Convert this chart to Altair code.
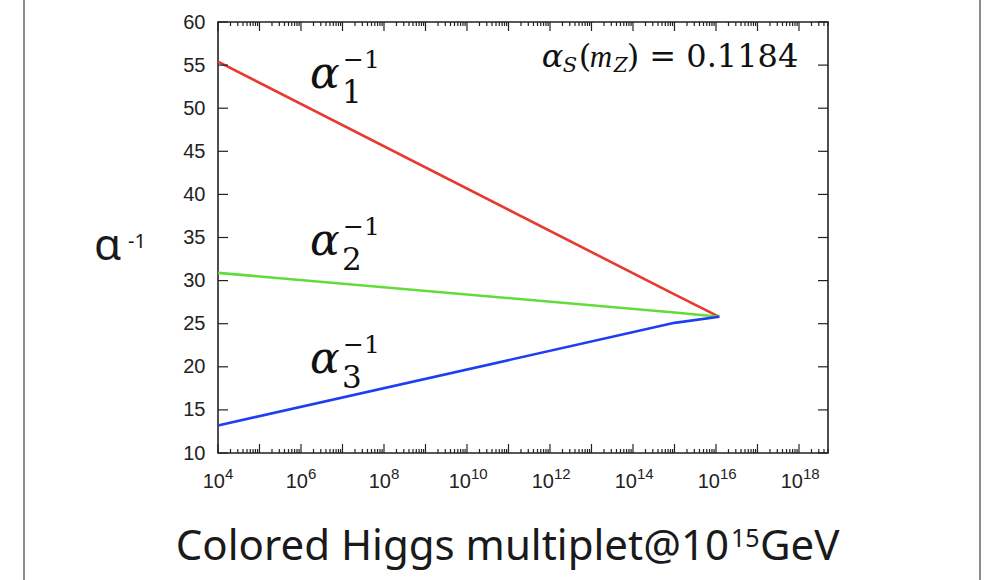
import altair as alt
import pandas as pd

# ---------------- data ----------------
x_points = [1e4, 1e15, 1.2e16]
alpha1_inv = [55.4, 28.4, 25.8]
alpha2_inv = [30.9, 26.3, 25.8]
alpha3_inv = [13.2, 25.1, 25.8]
series_names = ["a1", "a2", "a3"]
series_colors = ["#e8392e", "#62dc38", "#1d3ef2"]

major_decades = list(range(4, 19))
minor_mults = [2, 3, 4, 5, 6, 7, 8, 9]
x_max = 5e18
label_exps = [4, 6, 8, 10, 12, 14, 16, 18]
y_ticks = [10, 15, 20, 25, 30, 35, 40, 45, 50, 55, 60]

# line-label annotations (data coords of the alpha glyph baseline-left)
lab_x = [1.65e6, 1.65e6, 1.65e6]
lab_y = [52.4, 32.95, 19.25]
lab_sub = ["1", "2", "3"]

as_x = [6.3e11]
as_y = [54.8]

W, H = 610, 431

# ---------------- frames ----------------
rows = []
for name, vals in zip(series_names, [alpha1_inv, alpha2_inv, alpha3_inv]):
    for xv, yv in zip(x_points, vals):
        rows.append({"x": xv, "v": yv, "s": name})
lines_df = pd.DataFrame(rows)

xmaj_df = pd.DataFrame({"t": [10.0 ** d for d in major_decades]})
xmin_df = pd.DataFrame({"t": [m * 10.0 ** d for d in major_decades for m in minor_mults if m * 10.0 ** d <= x_max]})
ytk_df = pd.DataFrame({"t": y_ticks})
lab1_df = pd.DataFrame({"t": [10.0 ** e for e in label_exps if e < 10], "e": [str(e) for e in label_exps if e < 10]})
lab2_df = pd.DataFrame({"t": [10.0 ** e for e in label_exps if e >= 10], "e": [str(e) for e in label_exps if e >= 10]})
ann_df = pd.DataFrame({"x": lab_x, "y": lab_y, "sub": lab_sub})
as_df = pd.DataFrame({"x": as_x, "y": as_y})

xs = alt.Scale(type="log", domain=[1e4, x_max], nice=False)
ys = alt.Scale(domain=[10, 60], nice=False, zero=False)

TICK = "#222222"

lines = alt.Chart(lines_df).mark_line(strokeWidth=2.6).encode(
    x=alt.X("x:Q", scale=xs, axis=None),
    y=alt.Y("v:Q", scale=ys, axis=alt.Axis(
        values=y_ticks, ticks=False, domain=False, grid=False, title=None,
        labelFont="Liberation Sans", labelFontSize=20, labelColor="#222222",
        labelPadding=13)),
    color=alt.Color("s:N", scale=alt.Scale(domain=series_names, range=series_colors), legend=None),
)

def xrule(df, y0, y1):
    return alt.Chart(df).mark_rule(color=TICK, strokeWidth=1.2).encode(
        x=alt.X("t:Q", scale=xs), y=alt.value(y0), y2=alt.value(y1))

def yrule(x0, x1):
    return alt.Chart(ytk_df).mark_rule(color=TICK, strokeWidth=1.2).encode(
        y=alt.Y("t:Q", scale=ys), x=alt.value(x0), x2=alt.value(x1))

ticks = [
    xrule(xmaj_df, H, H - 9), xrule(xmaj_df, 0, 9),
    xrule(xmin_df, H, H - 4), xrule(xmin_df, 0, 4),
    yrule(0, 10), yrule(W, W - 10),
]

def xlabels(df, junction):
    base = alt.Chart(df).mark_text(align="right", baseline="alphabetic", dx=junction,
                                   font="Liberation Sans", fontSize=20, color="#222222").encode(
        x=alt.X("t:Q", scale=xs), y=alt.value(H + 35), text=alt.value("10"))
    exp = alt.Chart(df).mark_text(align="left", baseline="alphabetic", dx=junction,
                                  font="Liberation Sans", fontSize=15, color="#222222").encode(
        x=alt.X("t:Q", scale=xs), y=alt.value(H + 26), text="e:N")
    return [base, exp]

xlab = xlabels(lab1_df, 7) + xlabels(lab2_df, 4)

SERIF = "DejaVu Serif"

def ann(text, dx, dy, size, italic):
    return alt.Chart(ann_df).mark_text(align="left", baseline="alphabetic", dx=dx, dy=dy,
                                       font=SERIF, fontSize=size, fontStyle="italic" if italic else "normal",
                                       color="#111111").encode(
        x=alt.X("x:Q", scale=xs), y=alt.Y("y:Q", scale=ys),
        text=alt.value(text) if text is not None else "sub:N")

anns = [ann("α", 0, 0, 44, True), ann(None, 32, 15, 31, False), ann("−1", 33, -20, 25, False)]

def asp(text, dx, dy, size, italic, font=SERIF):
    return alt.Chart(as_df).mark_text(align="left", baseline="alphabetic", dx=dx, dy=dy,
                                      font=font, fontSize=size, fontStyle="italic" if italic else "normal",
                                      color="#111111").encode(
        x=alt.X("x:Q", scale=xs), y=alt.Y("y:Q", scale=ys), text=alt.value(text))

astext = [
    asp("α", 0, 0, 32, True),
    asp("S", 21, 5, 21, True),
    asp("(", 37, 0, 32, False),
    asp("m", 48, 0, 31, True, font="Liberation Serif"),
    asp("Z", 72, 5, 20, True),
    asp(") = 0.1184", 85, 0, 32, False),
]

def ptext(text, x, y, size, align="left", font="Noto Sans"):
    return alt.Chart(as_df).mark_text(align=align, baseline="alphabetic", font=font,
                                      fontSize=size, color="#1a1a1a").encode(
        x=alt.value(x), y=alt.value(y), text=alt.value(text))

titles = [
    ptext("α", -124, 238, 44),
    ptext("-1", -90, 226, 20),
    ptext("Colored Higgs multiplet@10", 511, H + 107, 42, align="right"),
    ptext("15", 513, H + 94, 25),
    ptext("GeV", 542, H + 107, 42),
]

frame = alt.Chart(as_df).mark_rule(color="#666666", strokeWidth=1.5).encode(
    x=alt.value(-194), y=alt.value(-22), y2=alt.value(H + 127))
frame2 = alt.Chart(as_df).mark_rule(color="#666666", strokeWidth=1.5).encode(
    x=alt.value(762), y=alt.value(-22), y2=alt.value(H + 127))

chart = alt.layer(lines, *ticks, *xlab, *anns, *astext, *titles, frame, frame2).properties(
    width=W, height=H,
    autosize=alt.AutoSizeParams(type="none"),
    padding={"left": 218, "top": 22, "right": 160, "bottom": 127},
    background="white",
).configure_view(stroke="#222222", strokeWidth=1.6)

chart.save("out.html", embed_options={"renderer": "svg", "actions": False})
